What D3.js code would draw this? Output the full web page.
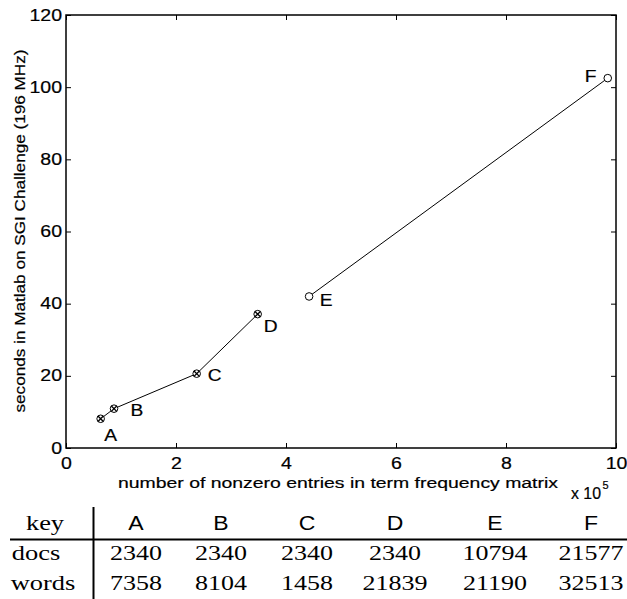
<!DOCTYPE html>
<html>
<head>
<meta charset="utf-8">
<script src="https://cdn.jsdelivr.net/npm/d3@7"></script>
<style>
  body { margin: 0; background: #fff; }
  text { fill: #000; }
  .sans { font-family: "Liberation Sans", Arial, sans-serif; stroke: #000; stroke-width: 0.2px; }
  .serif { font-family: "Liberation Serif", "DejaVu Serif", serif; }
</style>
</head>
<body>
<script>
// data
var keys = ["A", "B", "C", "D", "E", "F"];
var nonzeros = [0.63, 0.873, 2.376, 3.485, 4.42, 9.85];   // x 10^5
var seconds = [8.1, 10.9, 20.6, 37.1, 42.0, 102.5];
var series = [0, 0, 0, 0, 1, 1];                          // which run each point belongs to
var docs = [2340, 2340, 2340, 2340, 10794, 21577];
var words = [7358, 8104, 1458, 21839, 21190, 32513];
var xTicks = [0, 2, 4, 6, 8, 10];
var yTicks = [0, 20, 40, 60, 80, 100, 120];

// label placement next to each marker (pixels)
var labelDx = [10, 23, 18, 13, 17, -17];
var labelDy = [22, 7, 7, 18, 10, 4];
// table column centres
var colX = [136, 221, 307, 395, 495, 591];

var width = 627, height = 599;
var plotLeft = 66, plotRight = 616, plotTop = 15, plotBottom = 448;

var svg = d3.select("body").append("svg")
    .attr("width", width)
    .attr("height", height);

var x = d3.scaleLinear().domain([0, 10]).range([plotLeft, plotRight]);
var y = d3.scaleLinear().domain([0, 120]).range([plotBottom, plotTop]);

// the source picture is stretched sideways, so widen the glyphs a bit
function stretch(sel, k) {
  sel.each(function() {
    var w = this.getComputedTextLength();
    this.setAttribute("textLength", w * k);
    this.setAttribute("lengthAdjust", "spacingAndGlyphs");
  });
}

// axes with inward ticks on all four sides
function styleAxis(g) {
  g.select(".domain").remove();
  g.selectAll("line").attr("stroke", "#000").attr("stroke-width", 1);
  g.selectAll("text").attr("class", "sans").style("font-size", "16px").attr("fill", "#000");
}

svg.append("g")
    .attr("transform", "translate(0," + plotBottom + ")")
    .call(d3.axisBottom(x).tickValues(xTicks).tickSize(-5).tickPadding(10).tickFormat(d3.format("d")))
    .call(styleAxis)
    .selectAll("text").call(stretch, 1.22);

svg.append("g")
    .attr("transform", "translate(0," + plotTop + ")")
    .call(d3.axisTop(x).tickValues(xTicks).tickSize(-5).tickFormat(""))
    .call(styleAxis);

svg.append("g")
    .attr("transform", "translate(" + plotLeft + ",0)")
    .call(d3.axisLeft(y).tickValues(yTicks).tickSize(-5).tickPadding(4).tickFormat(d3.format("d")))
    .call(styleAxis)
    .selectAll("text").call(stretch, 1.22);

svg.append("g")
    .attr("transform", "translate(" + plotRight + ",0)")
    .call(d3.axisRight(y).tickValues(yTicks).tickSize(-5).tickFormat(""))
    .call(styleAxis);

// frame
svg.append("rect")
    .attr("x", plotLeft)
    .attr("y", plotTop)
    .attr("width", plotRight - plotLeft)
    .attr("height", plotBottom - plotTop)
    .attr("fill", "none")
    .attr("stroke", "#000")
    .attr("stroke-width", 1.5);

// axis titles
svg.append("text")
    .attr("class", "sans")
    .attr("x", 338)
    .attr("y", 488)
    .attr("text-anchor", "middle")
    .style("font-size", "15.5px")
    .text("number of nonzero entries in term frequency matrix")
    .attr("textLength", 440)
    .attr("lengthAdjust", "spacingAndGlyphs");

svg.append("text")
    .attr("class", "sans")
    .attr("x", 571)
    .attr("y", 499)
    .style("font-size", "16px")
    .text("x 10")
    .attr("textLength", 30)
    .attr("lengthAdjust", "spacingAndGlyphs");

svg.append("text")
    .attr("class", "sans")
    .attr("x", 602.5)
    .attr("y", 489)
    .style("font-size", "11px")
    .text("5");

svg.append("text")
    .attr("class", "sans")
    .attr("transform", "translate(25,231) rotate(-90)")
    .attr("text-anchor", "middle")
    .style("font-size", "15.5px")
    .text("seconds in Matlab on SGI Challenge (196 MHz)")
    .attr("textLength", 363)
    .attr("lengthAdjust", "spacingAndGlyphs");

// lines, one per run
var points = keys.map(function(k, i) {
  return { key: k, x: nonzeros[i], y: seconds[i], s: series[i], i: i };
});
var runs = d3.groups(points, function(d) { return d.s; });

var line = d3.line()
    .x(function(d) { return x(d.x); })
    .y(function(d) { return y(d.y); });

svg.append("g").selectAll("path")
    .data(runs)
    .join("path")
    .attr("d", function(d) { return line(d[1]); })
    .attr("fill", "none")
    .attr("stroke", "#000")
    .attr("stroke-width", 1);

// markers: circle-cross for the first run, open circle for the second
var marks = svg.append("g").selectAll("g")
    .data(points)
    .join("g")
    .attr("transform", function(d) { return "translate(" + x(d.x) + "," + y(d.y) + ")"; });

marks.append("circle")
    .attr("r", 3.8)
    .attr("fill", "#fff")
    .attr("stroke", "#000")
    .attr("stroke-width", 1);

marks.filter(function(d) { return d.s === 0; })
    .append("path")
    .attr("d", "M-2.7,-2.7L2.7,2.7M-2.7,2.7L2.7,-2.7")
    .attr("stroke", "#000")
    .attr("stroke-width", 1.3);

svg.append("g").selectAll("text")
    .data(points)
    .join("text")
    .attr("class", "sans")
    .attr("x", function(d) { return x(d.x) + labelDx[d.i]; })
    .attr("y", function(d) { return y(d.y) + labelDy[d.i]; })
    .attr("text-anchor", "middle")
    .style("font-size", "16px")
    .text(function(d) { return d.key; })
    .call(stretch, 1.2);

// table under the chart
var table = svg.append("g");

table.append("line")
    .attr("x1", 10).attr("x2", width)
    .attr("y1", 539.5).attr("y2", 539.5)
    .attr("stroke", "#000").attr("stroke-width", 2);

table.append("line")
    .attr("x1", 93.5).attr("x2", 93.5)
    .attr("y1", 507).attr("y2", height)
    .attr("stroke", "#000").attr("stroke-width", 2);

var rowNames = ["key", "docs", "words"];
var rowNameX = [45, 36, 43];
var rowY = [530, 560, 590];

table.append("g").selectAll("text")
    .data(rowNames)
    .join("text")
    .attr("class", "serif")
    .attr("x", function(d, i) { return rowNameX[i]; })
    .attr("y", function(d, i) { return rowY[i]; })
    .attr("text-anchor", "middle")
    .style("font-size", "22px")
    .text(function(d) { return d; })
    .call(stretch, 1.2);

table.append("g").selectAll("text")
    .data(keys)
    .join("text")
    .attr("x", function(d, i) { return colX[i]; })
    .attr("y", rowY[0])
    .attr("text-anchor", "middle")
    .style("font-family", "'Liberation Sans', Arial, sans-serif")
    .style("font-size", "20px")
    .text(function(d) { return d; })
    .call(stretch, 1.15);

[docs, words].forEach(function(row, r) {
  table.append("g").selectAll("text")
      .data(row)
      .join("text")
      .attr("class", "serif")
      .attr("x", function(d, i) { return colX[i]; })
      .attr("y", rowY[r + 1])
      .attr("text-anchor", "middle")
      .style("font-size", "20px")
      .text(function(d) { return d; })
      .call(stretch, 1.3);
});
</script>
</body>
</html>
